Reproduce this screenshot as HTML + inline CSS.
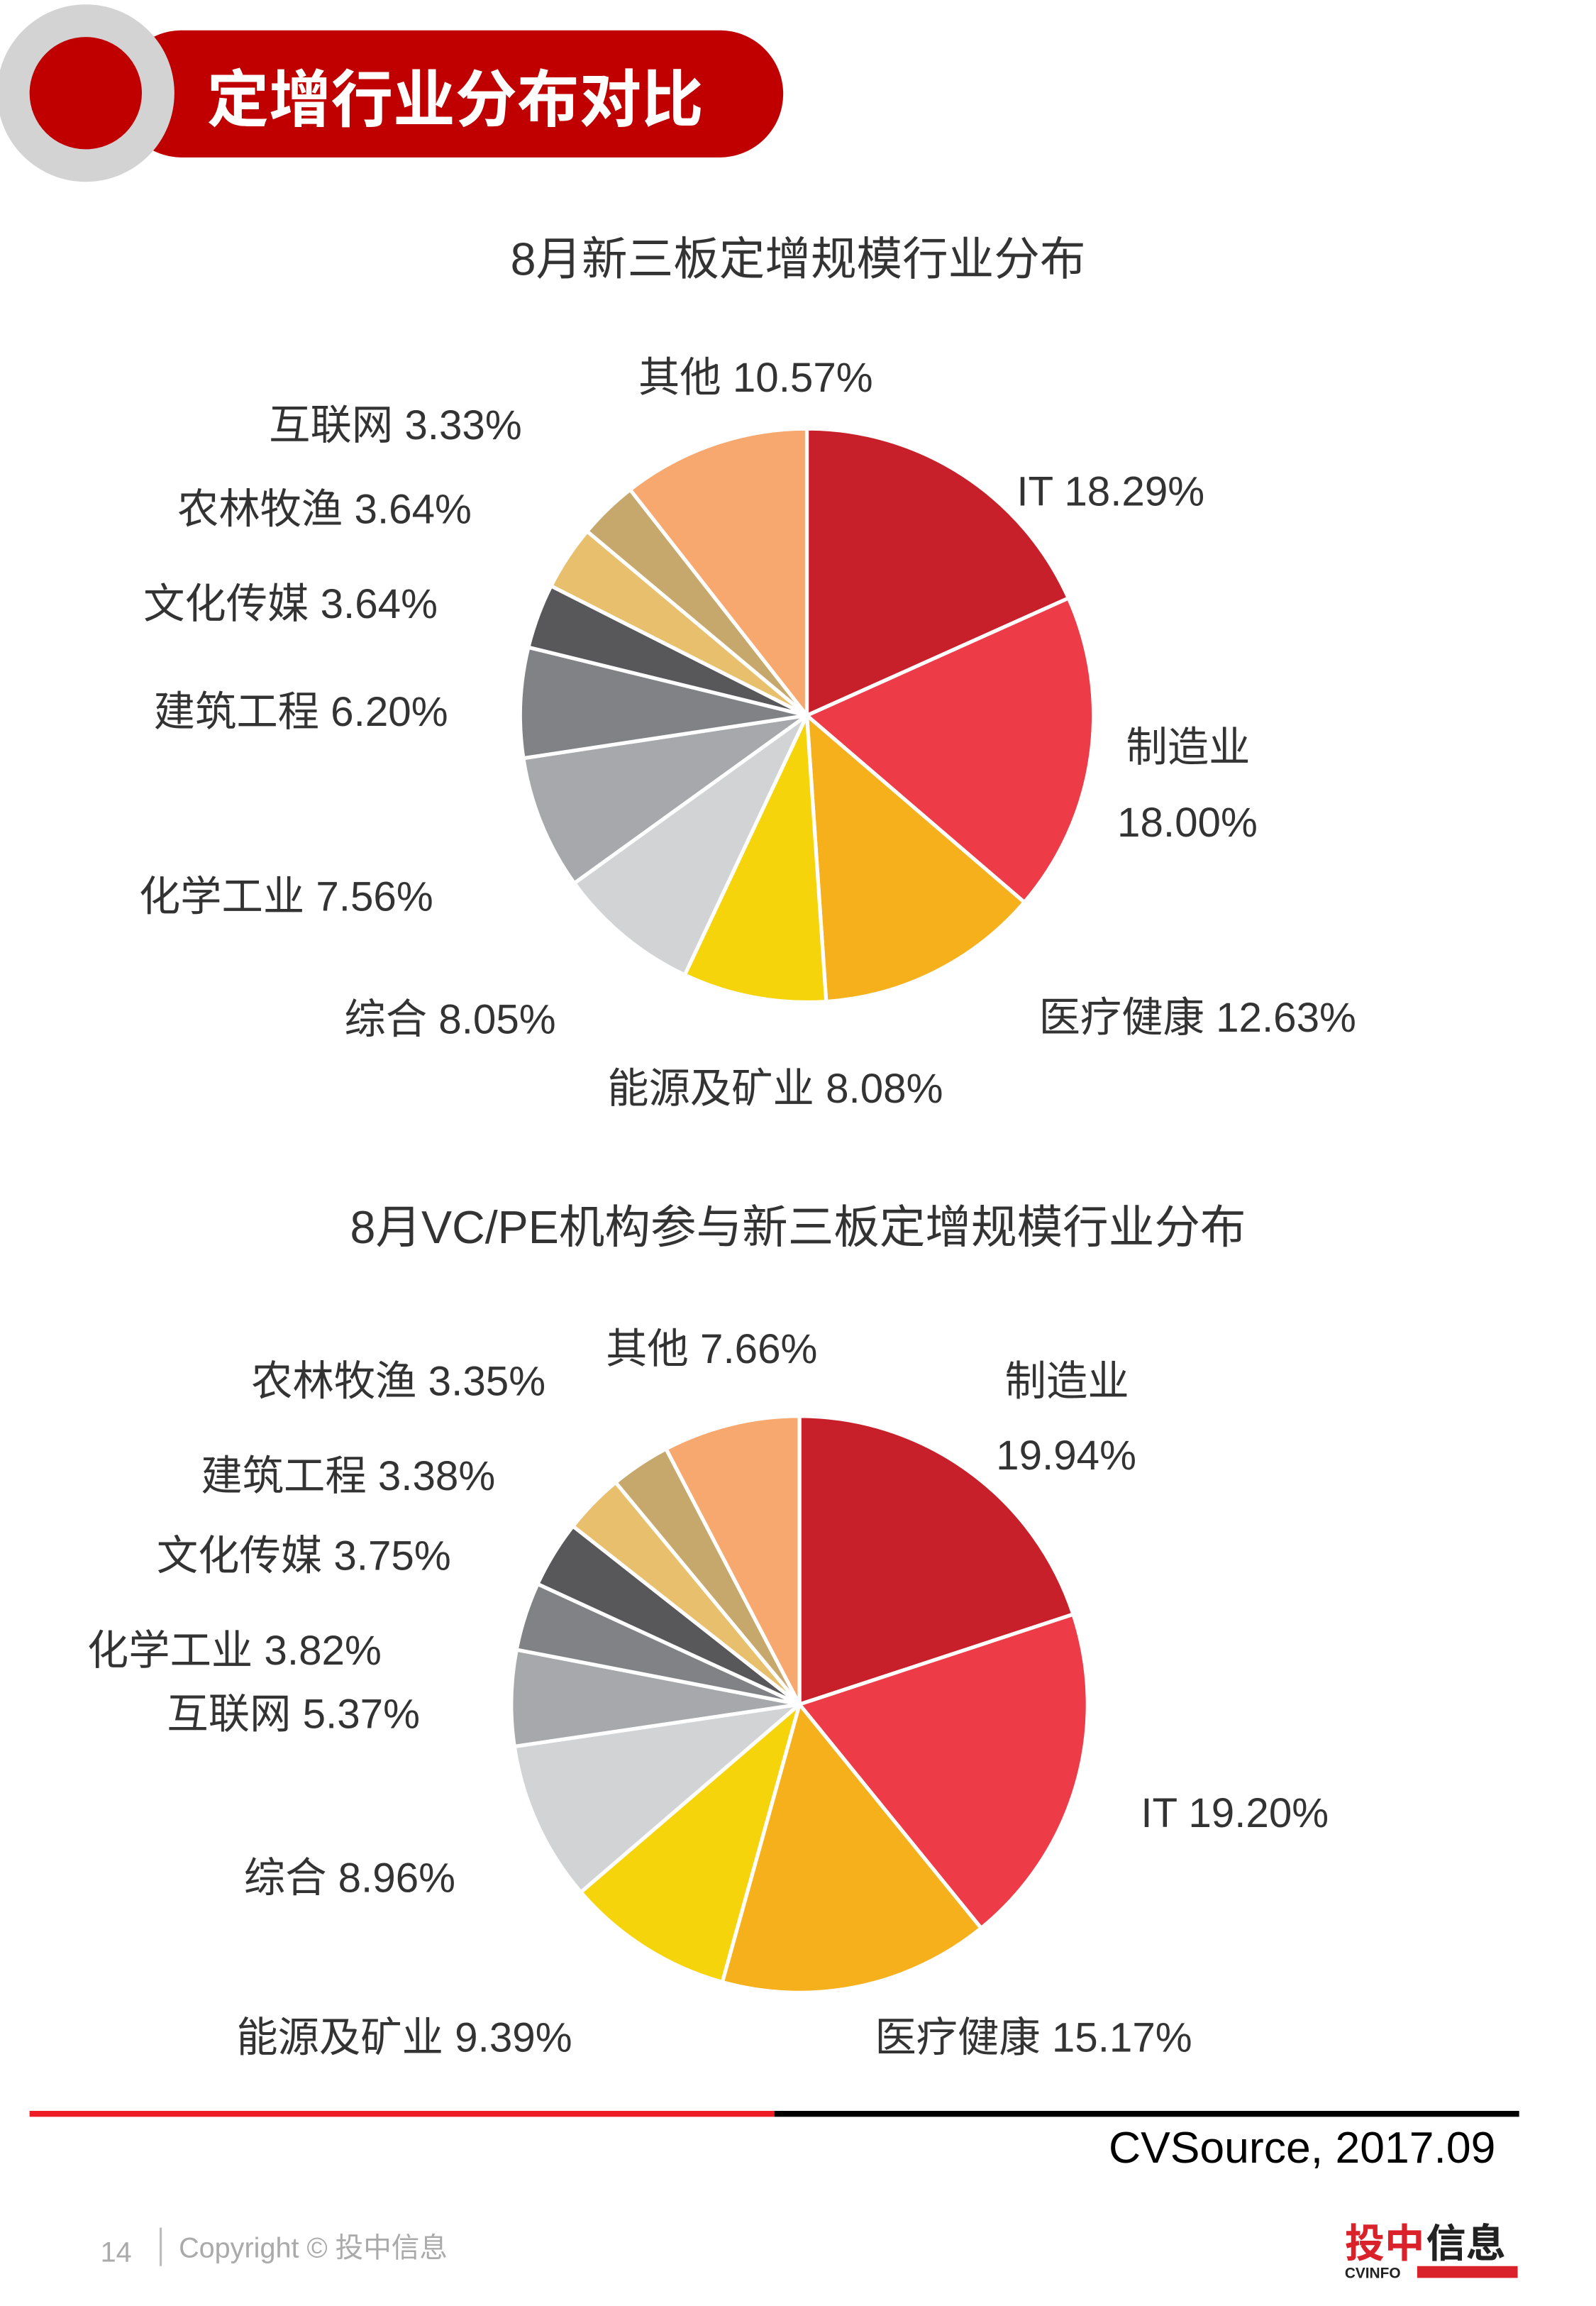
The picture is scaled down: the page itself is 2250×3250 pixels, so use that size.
<!DOCTYPE html>
<html><head><meta charset="utf-8"><style>
html,body{margin:0;padding:0;background:#fff;}
svg{display:block;}
text{font-family:"Liberation Sans","Noto Sans CJK SC",sans-serif;}
</style></head><body>
<svg width="2250" height="3250" viewBox="0 0 1080 1560" xmlns="http://www.w3.org/2000/svg">
<g>
<rect x="80" y="20.5" width="450" height="86" rx="43" fill="#c00000"/>
<circle cx="58" cy="63" r="60" fill="#d3d3d3"/>
<circle cx="58" cy="63" r="38" fill="#c00000"/>
<text x="140" y="82" font-size="42" font-weight="bold" fill="#fff">定增行业分布对比</text>
</g>
<text x="540" y="186" font-size="31" fill="#333" text-anchor="middle">8月新三板定增规模行业分布</text>
<g id="pie1"></g>
<text x="540" y="841" font-size="31" fill="#333" text-anchor="middle">8月VC/PE机构参与新三板定增规模行业分布</text>
<g id="pie2"></g>
<g font-size="28" fill="#333">
<text x="432" y="265">其他 10.57%</text>
<text x="182" y="297">互联网 3.33%</text>
<text x="120" y="354">农林牧渔 3.64%</text>
<text x="97" y="418">文化传媒 3.64%</text>
<text x="104" y="491">建筑工程 6.20%</text>
<text x="94" y="616">化学工业 7.56%</text>
<text x="233" y="699">综合 8.05%</text>
<text x="411" y="746">能源及矿业 8.08%</text>
<text x="703" y="698">医疗健康 12.63%</text>
<text x="762" y="515">制造业</text>
<text x="756" y="566">18.00%</text>
<text x="688" y="342">IT 18.29%</text>
</g>
<g font-size="28" fill="#333">
<text x="410" y="922">其他 7.66%</text>
<text x="170" y="944">农林牧渔 3.35%</text>
<text x="136" y="1008">建筑工程 3.38%</text>
<text x="106" y="1062">文化传媒 3.75%</text>
<text x="59" y="1126">化学工业 3.82%</text>
<text x="113" y="1169">互联网 5.37%</text>
<text x="165" y="1280">综合 8.96%</text>
<text x="160" y="1388">能源及矿业 9.39%</text>
<text x="592" y="1388">医疗健康 15.17%</text>
<text x="772" y="1236">IT 19.20%</text>
<text x="680" y="944">制造业</text>
<text x="674" y="994">19.94%</text>
</g>
<rect x="20" y="1428" width="504" height="4" fill="#ee1c25"/>
<rect x="524" y="1428" width="504" height="4" fill="#000"/>
<text x="1012" y="1463" font-size="30" fill="#000" text-anchor="end">CVSource, 2017.09</text>
<text x="68" y="1530" font-size="19" fill="#aaa">14</text>
<rect x="108" y="1507" width="1.5" height="26" fill="#bbb"/>
<text x="121" y="1527" font-size="19" fill="#aaa">Copyright © 投中信息</text>
<g>
<text x="910" y="1527" font-size="27" font-weight="bold" fill="#d9222a">投中</text>
<text x="965" y="1527" font-size="27" font-weight="bold" fill="#222">信息</text>
<text x="910" y="1541" font-size="10" font-weight="bold" fill="#222">CVINFO</text>
<rect x="959" y="1533" width="68" height="8" fill="#d9222a"/>
</g>
</svg>
<script>
const colors=["#c8202a","#ee3b48","#f5b01c","#f5d40b","#d1d3d5","#a6a8ab","#818286","#58585b","#e8bf6c","#c6a86c","#f7a86f"];
const cats1=["IT","制造业","医疗健康","能源及矿业","综合","化学工业","建筑工程","文化传媒","农林牧渔","互联网","其他"];
const vals1=[18.29,18.00,12.63,8.08,8.05,7.56,6.20,3.64,3.64,3.33,10.57];
const cats2=["制造业","IT","医疗健康","能源及矿业","综合","互联网","化学工业","文化传媒","建筑工程","农林牧渔","其他"];
const vals2=[19.94,19.20,15.17,9.39,8.96,5.37,3.82,3.75,3.38,3.35,7.66];
function drawPie(gid,cats,vals,cx,cy,r){
  const g=document.getElementById(gid);
  const tot=vals.reduce((a,b)=>a+b,0);
  let a=0;
  vals.forEach((v,i)=>{
    const a0=a/tot*2*Math.PI, a1=(a+v)/tot*2*Math.PI; a+=v;
    const x0=cx+r*Math.sin(a0),y0=cy-r*Math.cos(a0),x1=cx+r*Math.sin(a1),y1=cy-r*Math.cos(a1);
    const p=document.createElementNS("http://www.w3.org/2000/svg","path");
    p.setAttribute("d",`M${cx},${cy}L${x0},${y0}A${r},${r} 0 ${(a1-a0)>Math.PI?1:0} 1 ${x1},${y1}Z`);
    p.setAttribute("fill",colors[i]);p.setAttribute("stroke","#fff");p.setAttribute("stroke-width","2.5");p.setAttribute("stroke-linejoin","round");
    
    
    g.appendChild(p);
  });
}
drawPie("pie1",cats1,vals1,546,484,194);
drawPie("pie2",cats2,vals2,541,1153,195);
</script>
</body></html>
